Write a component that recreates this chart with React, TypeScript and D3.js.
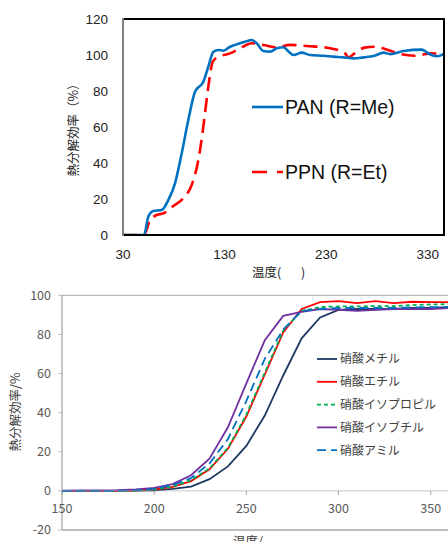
import * as d3 from "d3";

// ---- top chart data (PAN / PPN) ----
const panTemp = [30, 50.7, 54.9, 59.9, 68.1, 74.6, 81.2, 87.8, 94.3, 100.9, 109.1, 114, 119, 123.9, 128.8, 135.4, 142, 150.2, 156.8, 161.7, 168.2, 174.8, 181.4, 188, 192.9, 197.8, 206, 214, 227.5, 237.3, 247.1, 257, 266.8, 276.7, 286.5, 293.1, 306.2, 324.3, 330.9, 339.1, 346];
const panEff = [0, 0, 10.2, 13.3, 13.9, 19.4, 28.7, 45.4, 63.9, 79.6, 85.2, 93.5, 101.8, 102.8, 102.4, 104.6, 105.9, 107.4, 108.3, 106.5, 102.2, 101.9, 103.7, 104.3, 101.9, 100, 101.3, 100, 99.6, 99.1, 98.7, 98.1, 98.7, 99.4, 101.3, 100.5, 102.2, 103, 100.7, 99.3, 100.6];
const ppnTemp = [30, 50.7, 56.6, 63.2, 69.7, 79.6, 89.4, 97.6, 104.2, 109.1, 114, 118.4, 123.9, 135.4, 145.3, 156.8, 168.2, 181.4, 194.5, 211, 230.6, 245.3, 248.6, 252.2, 257.9, 267.8, 277.6, 290.8, 303.9, 317.1, 333.5, 346];
const ppnEff = [0, 0, 8.3, 11.1, 12, 16.1, 20.4, 27.8, 41.7, 60.2, 82.4, 96.3, 99, 100.9, 103.7, 106.5, 105.6, 104.3, 105.6, 105, 104.1, 101.9, 100.9, 98.7, 100.9, 104.1, 104.6, 102.8, 100.4, 99.6, 100.9, 100.6];
const topXTicks = [30, 130, 230, 330];
const topYTicks = [0, 20, 40, 60, 80, 100, 120];

// ---- bottom chart data (nitrates) ----
const temps = [150, 160, 170, 180, 190, 200, 210, 220, 230, 240, 250, 260, 270, 280, 290, 300, 310, 320, 330, 340, 350, 360, 370];
const methyl = [0, 0, 0, 0, 0.1, 0.3, 1, 2.2, 6, 12.5, 23, 38.5, 59, 78, 88.7, 92.5, 93, 93, 93, 93.5, 93.5, 94, 94];
const ethyl = [0, 0, 0, 0, 0.2, 0.8, 2, 5, 11, 21.5, 38, 59.5, 81, 93, 96.5, 97, 96, 97, 96, 96.7, 96.5, 96.5, 96.5];
const isopropyl = [0, 0, 0, 0, 0.2, 0.8, 2.2, 5.5, 11.5, 22, 39, 60.5, 82, 92, 94, 94.3, 94.3, 94.5, 94.5, 95, 95.3, 95.5, 95.5];
const isobutyl = [0.1, 0.2, 0.3, 0.4, 0.8, 1.5, 3.5, 8, 16.5, 32.5, 55, 77, 89.5, 91.5, 93, 92.5, 92, 92.5, 93, 93, 93, 93.5, 93.5];
const amyl = [0, 0, 0, 0, 0.3, 1, 3, 6.5, 14, 26.5, 46, 67.5, 82.5, 92, 93, 93.5, 93.5, 93.5, 93.5, 93.8, 94, 94, 94];
const botXTicks = [150, 200, 250, 300, 350];
const botYTicks = [-20, 0, 20, 40, 60, 80, 100];

const nitrateSeries = [
  { name: "硝酸メチル", values: methyl, color: "#1F3864", dash: "" },
  { name: "硝酸エチル", values: ethyl, color: "#FF0000", dash: "" },
  { name: "硝酸イソプロピル", values: isopropyl, color: "#00B050", dash: "4,3" },
  { name: "硝酸イソブチル", values: isobutyl, color: "#7030A0", dash: "" },
  { name: "硝酸アミル", values: amyl, color: "#0070C0", dash: "9,5" },
];

const latin = "'Liberation Sans', Arial, sans-serif";
const jp = "'Noto Sans CJK JP', sans-serif";

export default function App() {
  // top chart scales
  const tx = d3.scaleLinear().domain([30, 346]).range([123, 444]);
  const ty = d3.scaleLinear().domain([0, 120]).range([235, 19]);
  const topLine = d3
    .line<[number, number]>()
    .x((d) => tx(d[0]))
    .y((d) => ty(d[1]))
    .curve(d3.curveMonotoneX);
  const panPts = panTemp.map((t, i) => [t, panEff[i]] as [number, number]);
  const ppnPts = ppnTemp.map((t, i) => [t, ppnEff[i]] as [number, number]);

  // bottom chart scales
  const bx = d3.scaleLinear().domain([150, 350]).range([62, 430.7]);
  const by = d3.scaleLinear().domain([-20, 100]).range([530, 295.3]);
  const botLine = d3
    .line<number>()
    .x((_, i) => bx(temps[i]))
    .y((d) => by(d));

  return (
    <div style={{ position: "absolute", left: 0, top: 0 }}>
      <svg width={448} height={542} style={{ display: "block", background: "#fff" }}>
        <defs>
          <clipPath id="topClip">
            <rect x={123} y={19} width={321} height={216} />
          </clipPath>
        </defs>

        {/* ---------- top chart ---------- */}
        <g clipPath="url(#topClip)">
          <path d={topLine(ppnPts) ?? ""} fill="none" stroke="#FF0000" strokeWidth={2.6} strokeDasharray="14,7" />
          <path d={topLine(panPts) ?? ""} fill="none" stroke="#0070C0" strokeWidth={2.6} />
        </g>
        <rect x={123} y={19} width={321} height={216} fill="none" stroke="#000" strokeWidth={2} />
        <line x1={123} x2={123} y1={18} y2={236} stroke="#808080" strokeWidth={2} />

        {topYTicks.map((t) => (
          <text key={t} x={108} y={ty(t)} dy="0.35em" textAnchor="end" fontFamily={latin} fontSize={13.5} fill="#222">
            {t}
          </text>
        ))}
        {topXTicks.map((t) => (
          <text key={t} x={tx(t)} y={254} dy="0.35em" textAnchor="middle" fontFamily={latin} fontSize={13.5} fill="#222">
            {t}
          </text>
        ))}
        <text transform="translate(78,127) rotate(-90)" textAnchor="middle" fontFamily={jp} fontSize={12.5} fill="#222">
          熱分解効率（%）
        </text>
        <text x={252} y={277} fontFamily={jp} fontSize={12.5} fill="#222">
          温度(
        </text>
        <text x={301} y={277} fontFamily={jp} fontSize={12.5} fill="#222">
          )
        </text>

        <line x1={252} x2={283} y1={107} y2={107} stroke="#0070C0" strokeWidth={2.6} />
        <text x={285} y={114} fontFamily={latin} fontSize={19.5} fill="#111">
          PAN (R=Me)
        </text>
        <line x1={252} x2={283} y1={172} y2={172} stroke="#FF0000" strokeWidth={2.6} strokeDasharray="15,10" />
        <text x={285} y={179} fontFamily={latin} fontSize={19.5} fill="#111">
          PPN (R=Et)
        </text>

        {/* ---------- bottom chart ---------- */}
        <line x1={62} x2={448} y1={by(100)} y2={by(100)} stroke="#A6A6A6" strokeWidth={1} />
        <line x1={62} x2={448} y1={by(-20)} y2={by(-20)} stroke="#7F7F7F" strokeWidth={1} />
        <line x1={62} x2={62} y1={by(100)} y2={by(-20)} stroke="#8C8C8C" strokeWidth={1} />
        {botYTicks.map((t) => (
          <g key={t}>
            <line x1={58} x2={62} y1={by(t)} y2={by(t)} stroke="#BFBFBF" strokeWidth={1} />
            <text x={51} y={by(t)} dy="0.35em" textAnchor="end" fontFamily={jp} fontSize={12.5} fill="#595959">
              {t}
            </text>
          </g>
        ))}
        {botXTicks.map((t) => (
          <g key={t}>
            <line x1={bx(t)} x2={bx(t)} y1={by(0)} y2={by(0) + 4} stroke="#A6A6A6" strokeWidth={1} />
            <text x={bx(t)} y={509} dy="0.35em" textAnchor="middle" fontFamily={jp} fontSize={12.5} fill="#595959">
              {t}
            </text>
          </g>
        ))}

        {nitrateSeries.map((s) => (
          <path
            key={s.name}
            d={botLine(s.values) ?? ""}
            fill="none"
            stroke={s.color}
            strokeWidth={1.8}
            strokeDasharray={s.dash || undefined}
          />
        ))}
        <line x1={62} x2={448} y1={by(0)} y2={by(0)} stroke="#A6A6A6" strokeWidth={1} opacity={0.6} />

        <text transform="translate(20,412) rotate(-90)" textAnchor="middle" fontFamily={jp} fontSize={12.5} fill="#404040">
          熱分解効率/%
        </text>
        <text x={248} y={546} textAnchor="middle" fontFamily={jp} fontSize={12.5} fill="#404040">
          温度/
        </text>

        {nitrateSeries.map((s, i) => {
          const y = 359 + i * 22.8;
          return (
            <g key={s.name}>
              <line x1={317} x2={337} y1={y} y2={y} stroke={s.color} strokeWidth={1.8} strokeDasharray={s.dash || undefined} />
              <text x={340} y={y} dy="0.36em" fontFamily={jp} fontSize={12} fill="#404040">
                {s.name}
              </text>
            </g>
          );
        })}
      </svg>
    </div>
  );
}
